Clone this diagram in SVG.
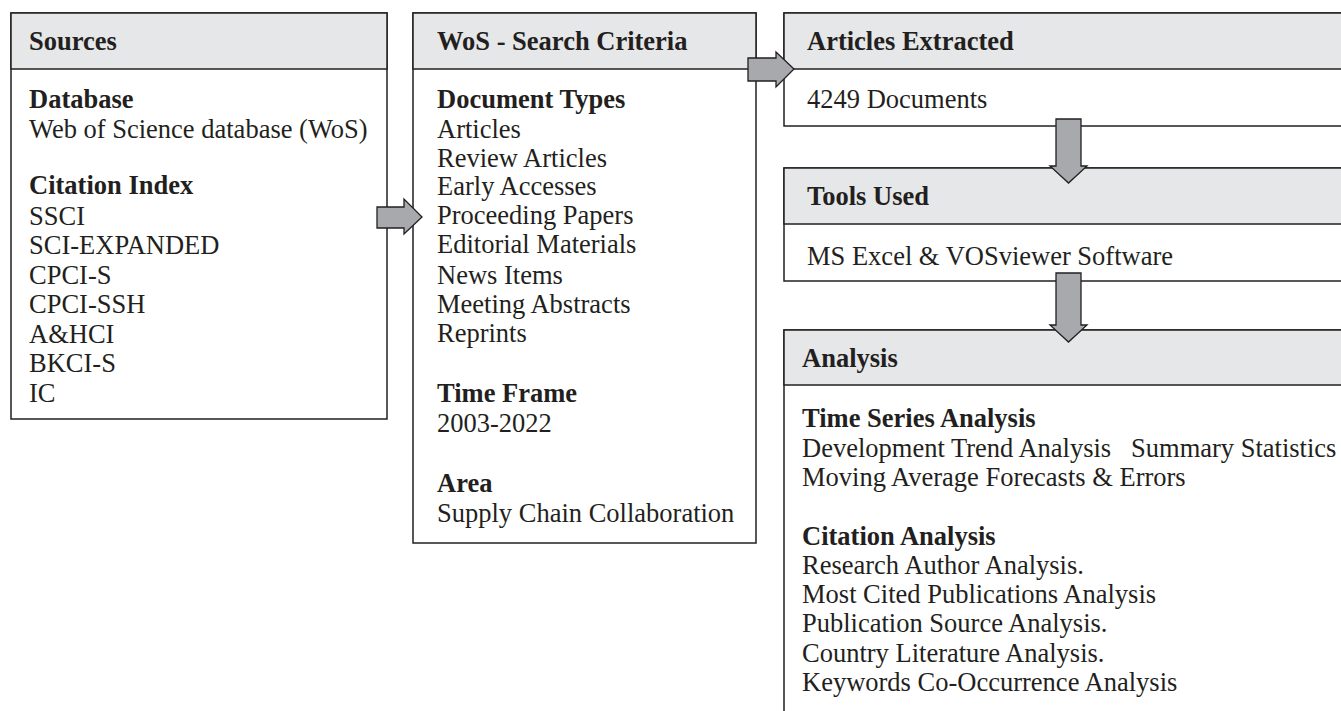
<svg xmlns="http://www.w3.org/2000/svg" width="1341" height="711" viewBox="0 0 1341 711">
<style>
.box{fill:#ffffff;stroke:#231f20;stroke-width:1.5}
.hdr{fill:#e6e7e8;stroke:#231f20;stroke-width:1.5}
.t{font-family:"Liberation Serif","Times New Roman",serif;font-size:26.5px;fill:#231f20}
.b{font-weight:bold}
.arr{fill:#a7a9ac;stroke:#231f20;stroke-width:1.3;stroke-linejoin:miter}
</style>
<rect width="1341" height="711" fill="#ffffff"/>
<g id="sources">
<rect class="box" x="11" y="13" width="376" height="406"/>
<rect class="hdr" x="11" y="13" width="376" height="56"/>
<text class="t b" x="29" y="50">Sources</text>
<text class="t b" x="29" y="108">Database</text>
<text class="t" x="29" y="138">Web of Science database (WoS)</text>
<text class="t b" x="29" y="194">Citation Index</text>
<text class="t" x="29" y="225">SSCI</text>
<text class="t" x="29" y="254">SCI-EXPANDED</text>
<text class="t" x="29" y="284">CPCI-S</text>
<text class="t" x="29" y="313">CPCI-SSH</text>
<text class="t" x="29" y="343">A&amp;HCI</text>
<text class="t" x="29" y="372">BKCI-S</text>
<text class="t" x="29" y="402">IC</text>
</g>
<g id="wos">
<rect class="box" x="413" y="13" width="343" height="530"/>
<rect class="hdr" x="413" y="13" width="343" height="56"/>
<text class="t b" x="437" y="50">WoS - Search Criteria</text>
<text class="t b" x="437" y="108">Document Types</text>
<text class="t" x="437" y="138">Articles</text>
<text class="t" x="437" y="167">Review Articles</text>
<text class="t" x="437" y="195">Early Accesses</text>
<text class="t" x="437" y="224">Proceeding Papers</text>
<text class="t" x="437" y="253">Editorial Materials</text>
<text class="t" x="437" y="284">News Items</text>
<text class="t" x="437" y="313">Meeting Abstracts</text>
<text class="t" x="437" y="342">Reprints</text>
<text class="t b" x="437" y="402">Time Frame</text>
<text class="t" x="437" y="432">2003-2022</text>
<text class="t b" x="437" y="492">Area</text>
<text class="t" x="437" y="522">Supply Chain Collaboration</text>
</g>
<g id="articles">
<rect class="box" x="784" y="13" width="600" height="113"/>
<rect class="hdr" x="784" y="13" width="600" height="56"/>
<text class="t b" x="807" y="50">Articles Extracted</text>
<text class="t" x="807" y="108">4249 Documents</text>
</g>
<g id="tools">
<rect class="box" x="784" y="168" width="600" height="113"/>
<rect class="hdr" x="784" y="168" width="600" height="56"/>
<text class="t b" x="807" y="205">Tools Used</text>
<text class="t" x="807" y="265">MS Excel &amp; VOSviewer Software</text>
</g>
<g id="analysis">
<rect class="box" x="784" y="330" width="600" height="420"/>
<rect class="hdr" x="784" y="330" width="600" height="55"/>
<text class="t b" x="802" y="367">Analysis</text>
<text class="t b" x="802" y="427">Time Series Analysis</text>
<text class="t" x="802" y="457" xml:space="preserve">Development Trend Analysis   Summary Statistics</text>
<text class="t" x="802" y="486">Moving Average Forecasts &amp; Errors</text>
<text class="t b" x="802" y="545">Citation Analysis</text>
<text class="t" x="802" y="574">Research Author Analysis.</text>
<text class="t" x="802" y="603">Most Cited Publications Analysis</text>
<text class="t" x="802" y="632">Publication Source Analysis.</text>
<text class="t" x="802" y="662">Country Literature Analysis.</text>
<text class="t" x="802" y="691">Keywords Co-Occurrence Analysis</text>
</g>
<g id="connectors">
<polygon class="arr" points="377,207 404,207 404,199 422,217 404,234 404,228 377,228"/>
<polygon class="arr" points="748,58 776,58 776,52 794,69 776,87 776,81 748,81"/>
<polygon class="arr" points="1056,119 1081,119 1081,166 1087,166 1068.5,183 1050,166 1056,166"/>
<polygon class="arr" points="1056,273 1081,273 1081,325 1087,325 1068.5,342 1050,325 1056,325"/>
</g>
</svg>
